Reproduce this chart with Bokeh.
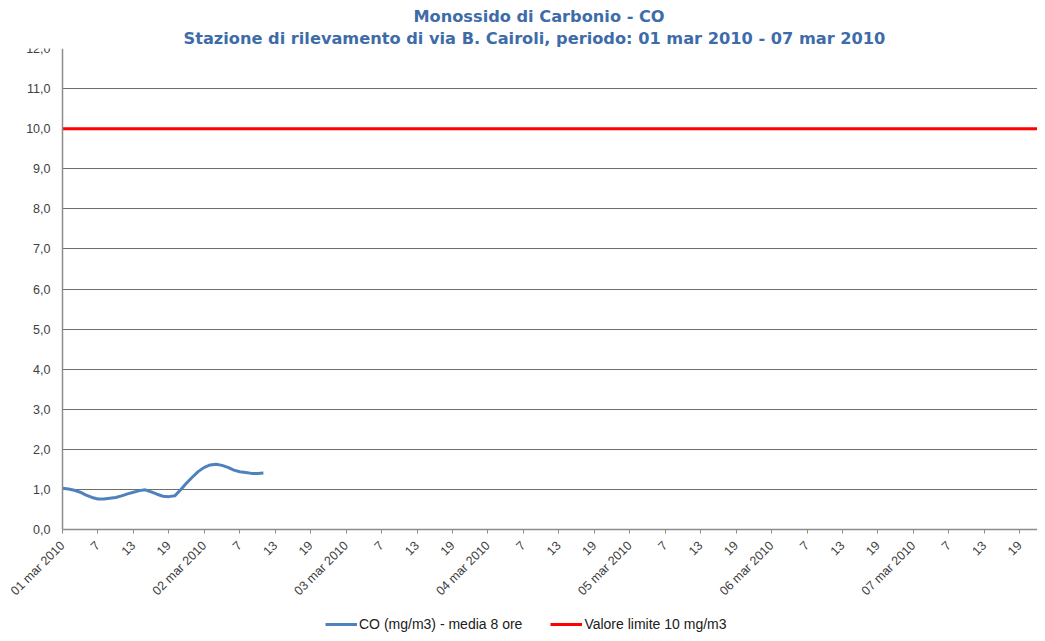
from bokeh.plotting import figure
from bokeh.models import (Range1d, FixedTicker, Grid, Legend, LegendItem, ColumnDataSource, Title)
from bokeh.embed import file_html
from bokeh.resources import INLINE
import math

# ---- data ----
co_hours = list(range(35))
co_values = [1.03, 1.01, 0.98, 0.93, 0.86, 0.80, 0.76, 0.76, 0.78, 0.80, 0.84, 0.89,
             0.93, 0.97, 0.99, 0.94, 0.88, 0.83, 0.82, 0.84, 0.99, 1.16, 1.31, 1.45,
             1.55, 1.61, 1.63, 1.60, 1.55, 1.48, 1.44, 1.42, 1.40, 1.40, 1.41]
limit_hours = [0, 168]
limit_values = [10.0, 10.0]
day_labels = ["01 mar 2010", "02 mar 2010", "03 mar 2010", "04 mar 2010",
              "05 mar 2010", "06 mar 2010", "07 mar 2010"]
hour_labels = ["7", "13", "19"]
y_ticks = list(range(13))
y_labels = ["%d,0" % v for v in y_ticks]
title_line1 = "Monossido di Carbonio - CO"
title_line2 = "Stazione di rilevamento di via B. Cairoli, periodo: 01 mar 2010 - 07 mar 2010"

x_ticks = list(range(0, 168, 6))
x_overrides = {}
for i, t in enumerate(x_ticks):
    if i % 4 == 0:
        x_overrides[t] = day_labels[i // 4]
    else:
        x_overrides[t] = hour_labels[i % 4 - 1]

TITLE_COLOR = "#3D6CA8"

# frame spans the whole figure width/bottom; axes are pinned at x=0 / y=0
W, H = 1037, 633
AXIS_X_PX = 62      # y axis position in px
TOP_PX = 48         # top of plotting area
AXIS_Y_PX = 529     # x axis position in px
X_MAX = 165.0
Y_MAX = 12
Y_MIN = -(H - AXIS_Y_PX) * Y_MAX / (AXIS_Y_PX - TOP_PX)
X_MIN = -AXIS_X_PX * X_MAX / (W - AXIS_X_PX)

p = figure(width=W, height=H, output_backend="svg", toolbar_location=None,
           x_range=Range1d(X_MIN, X_MAX), y_range=Range1d(Y_MIN, Y_MAX),
           min_border_left=0, min_border_right=0, min_border_top=TOP_PX, min_border_bottom=0)
p.title.text = title_line1
p.title.align = "left"
p.title.offset = 413
p.title.text_font = "DejaVu Sans"
p.title.text_font_size = "16.2px"
p.title.text_font_style = "bold"
p.title.text_color = TITLE_COLOR
p.title.standoff = 0
p.title.text_line_height = 1.0
t2 = Title(text=title_line2, align="left", offset=183, text_font="DejaVu Sans", text_font_size="16.2px",
           text_font_style="bold", text_color=TITLE_COLOR, standoff=2, text_line_height=1.0)
p.add_layout(t2, "above")

p.outline_line_color = None
p.background_fill_color = "white"
p.border_fill_color = "white"

p.xgrid.visible = False
p.ygrid.ticker = FixedTicker(ticks=list(range(1, 12)))
p.ygrid.grid_line_color = "#6E6E6E"
p.ygrid.grid_line_width = 1
p.ygrid.cross_bounds = (0, X_MAX)
top_grid = Grid(dimension=1, ticker=FixedTicker(ticks=[12]), grid_line_color="#BDBDBD",
                grid_line_width=2, cross_bounds=(0, X_MAX))
p.add_layout(top_grid)

p.yaxis.fixed_location = 0
p.yaxis.ticker = FixedTicker(ticks=y_ticks)
p.yaxis.bounds = (0, Y_MAX)
p.yaxis.major_label_overrides = {t: l for t, l in zip(y_ticks, y_labels)}
p.yaxis.major_tick_line_color = None
p.yaxis.major_tick_out = 0
p.yaxis.major_tick_in = 0
p.yaxis.minor_tick_line_color = None
p.yaxis.axis_line_color = "#8C8C8C"
p.yaxis.axis_line_width = 1.5
p.yaxis.major_label_text_font = "Liberation Sans"
p.yaxis.major_label_text_font_size = "12.5px"
p.yaxis.major_label_text_color = "#404040"
p.yaxis.major_label_standoff = 12

p.xaxis.fixed_location = 0
p.xaxis.bounds = (0, X_MAX)
p.xaxis.ticker = FixedTicker(ticks=x_ticks)
p.xaxis.major_label_overrides = x_overrides
p.xaxis.major_label_orientation = math.pi / 4
p.xaxis.major_tick_out = 4
p.xaxis.major_tick_in = 0
p.xaxis.minor_tick_line_color = None
p.xaxis.major_tick_line_color = "#8C8C8C"
p.xaxis.axis_line_color = "#8C8C8C"
p.xaxis.axis_line_width = 1.5
p.xaxis.major_label_text_font = "Liberation Sans"
p.xaxis.major_label_text_font_size = "12.5px"
p.xaxis.major_label_text_color = "#404040"
p.xaxis.major_label_standoff = 10

src_co = ColumnDataSource(dict(x=co_hours, y=co_values))
src_lim = ColumnDataSource(dict(x=limit_hours, y=limit_values))
r_lim = p.line("x", "y", source=src_lim, line_color="#FF0000", line_width=3)
r_co = p.line("x", "y", source=src_co, line_color="#4F81BD", line_width=3, line_join="round")

legend = Legend(items=[LegendItem(label="CO (mg/m3) - media 8 ore", renderers=[r_co]),
                       LegendItem(label="Valore limite 10 mg/m3", renderers=[r_lim])],
                orientation="horizontal", location=(325, 1),
                border_line_color=None, background_fill_alpha=0,
                label_text_font="Liberation Sans", label_text_font_size="14px",
                label_text_color="#202020", glyph_width=32, glyph_height=16, label_height=16,
                spacing=28, label_standoff=2, margin=0, padding=0)
p.add_layout(legend, "center")

open("out.html", "w").write(file_html(p, INLINE))
